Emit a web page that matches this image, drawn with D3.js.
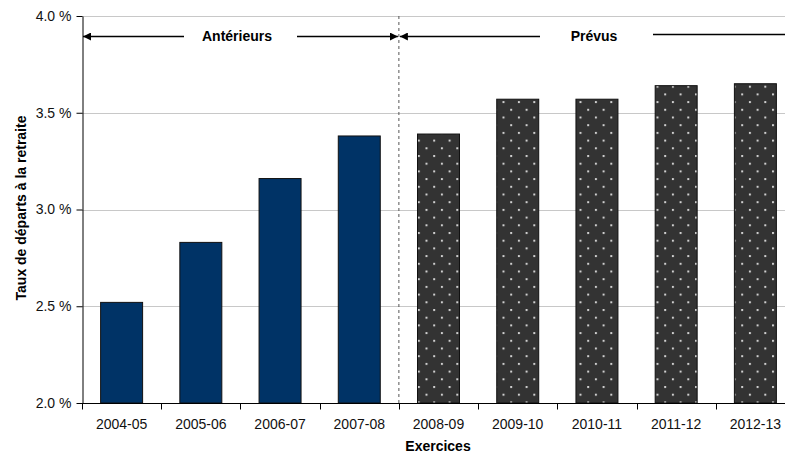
<!DOCTYPE html>
<html>
<head>
<meta charset="utf-8">
<script src="https://cdn.jsdelivr.net/npm/d3@7"></script>
<style>
  html, body { margin: 0; padding: 0; background: #fff; }
  svg { display: block; font-family: "Liberation Sans", Arial, sans-serif; }
</style>
</head>
<body>
<svg id="chart" width="785" height="455"></svg>
<script>
// Exercise years and retirement rates (%)
const categories = ["2004-05", "2005-06", "2006-07", "2007-08", "2008-09", "2009-10", "2010-11", "2011-12", "2012-13"];
const rates = [2.52, 2.83, 3.16, 3.38, 3.39, 3.57, 3.57, 3.64, 3.65];
const kinds = ["past", "past", "past", "past", "forecast", "forecast", "forecast", "forecast", "forecast"];
const yTicks = [2.0, 2.5, 3.0, 3.5, 4.0];

const svg = d3.select("#chart");
const margin = { left: 82, top: 16 };
const plotW = 713; // the plot runs slightly past the right edge of the view

const x = d3.scaleBand().domain(categories).range([margin.left, margin.left + plotW]).paddingInner(0.47).paddingOuter(0.235);
const y = d3.scaleLinear().domain([2.0, 4.0]).range([403, margin.top]);

// Dot pattern for forecast bars
const defs = svg.append("defs");
const pat = defs.append("pattern").attr("id", "dots").attr("patternUnits", "userSpaceOnUse")
  .attr("width", 15.4).attr("height", 15.4).attr("x", 2).attr("y", 1);
pat.append("rect").attr("width", 15.4).attr("height", 15.4).attr("fill", "#333333");
pat.append("rect").attr("x", 0).attr("y", 0).attr("width", 2).attr("height", 2).attr("fill", "#d0d0d0");
pat.append("rect").attr("x", 7.7).attr("y", 7.7).attr("width", 2).attr("height", 2).attr("fill", "#d0d0d0");

// Gridlines
svg.append("g").selectAll("line").data(yTicks.filter(d => d > 2.0)).join("line")
  .attr("x1", margin.left).attr("x2", margin.left + plotW)
  .attr("y1", d => Math.round(y(d)) + 0.5).attr("y2", d => Math.round(y(d)) + 0.5)
  .attr("stroke", "#c8c8c8").attr("stroke-width", 1);

// Bars
svg.append("g").selectAll("rect").data(categories).join("rect")
  .attr("x", d => x(d))
  .attr("y", (d, i) => y(rates[i]))
  .attr("width", x.bandwidth())
  .attr("height", (d, i) => y(2.0) - y(rates[i]))
  .attr("fill", (d, i) => kinds[i] === "past" ? "#003366" : "url(#dots)")
  .attr("stroke", "#111")
  .attr("stroke-width", 1);

// Divider between past and forecast
const divX = (x(categories[3]) + x.bandwidth() + x(categories[4])) / 2;
svg.append("line").attr("x1", divX).attr("x2", divX).attr("y1", y(4.0)).attr("y2", y(2.0))
  .attr("stroke", "#555").attr("stroke-width", 1).attr("stroke-dasharray", "3,3");

// Y axis
const yAxis = d3.axisLeft(y).tickValues(yTicks).tickSizeInner(6).tickSizeOuter(0).tickPadding(5)
  .tickFormat(d => d3.format(".1f")(d) + " %");
const gy = svg.append("g").attr("transform", `translate(${margin.left + 0.5},0)`).call(yAxis);
gy.selectAll("text").attr("font-size", 14).attr("fill", "#111");
gy.select(".domain").attr("stroke", "#000");

// X axis with ticks on band boundaries
const gx = svg.append("g").attr("transform", `translate(0,${Math.round(y(2.0)) + 0.5})`);
gx.append("line").attr("x1", margin.left).attr("x2", margin.left + plotW).attr("stroke", "#000");
const step = x.step();
const bounds = d3.range(0, categories.length + 1).map(i => margin.left + i * step);
gx.selectAll("line.tick").data(bounds).join("line").attr("class", "tick")
  .attr("x1", d => Math.round(d) + 0.5).attr("x2", d => Math.round(d) + 0.5)
  .attr("y1", 0).attr("y2", 6).attr("stroke", "#000");
gx.selectAll("text").data(categories).join("text")
  .attr("x", d => x(d) + x.bandwidth() / 2).attr("y", 25)
  .attr("text-anchor", "middle").attr("font-size", 14).attr("fill", "#111").text(d => d);

// Axis titles
svg.append("text").attr("x", 438).attr("y", 451).attr("text-anchor", "middle")
  .attr("font-size", 14).attr("font-weight", "bold").text("Exercices");
svg.append("text").attr("transform", `translate(25.5,208) rotate(-90)`)
  .attr("text-anchor", "middle").attr("font-size", 14).attr("font-weight", "bold")
  .text("Taux de départs à la retraite");

// Period markers
defs.append("marker").attr("id", "arrow").attr("viewBox", "0 0 10 10").attr("refX", 10).attr("refY", 5)
  .attr("markerWidth", 8).attr("markerHeight", 8).attr("markerUnits", "userSpaceOnUse").attr("orient", "auto")
  .append("path").attr("d", "M0,0 L10,5 L0,10 Z").attr("fill", "#000");

const arrowY = 36;
const periodLines = [
  { x1: 184, x2: margin.left + 1, y: arrowY },
  { x1: 297, x2: divX - 1, y: arrowY },
  { x1: 540, x2: divX + 1, y: arrowY },
  { x1: 653, x2: margin.left + plotW, y: arrowY - 2 }
];
svg.append("g").selectAll("line").data(periodLines).join("line")
  .attr("x1", d => d.x1).attr("x2", d => d.x2).attr("y1", d => d.y + 0.5).attr("y2", d => d.y + 0.5)
  .attr("stroke", "#000").attr("stroke-width", 1.3)
  .attr("marker-end", "url(#arrow)");

svg.append("text").attr("x", 237).attr("y", 41).attr("text-anchor", "middle")
  .attr("font-size", 14).attr("font-weight", "bold").text("Antérieurs");
svg.append("text").attr("x", 594).attr("y", 41).attr("text-anchor", "middle")
  .attr("font-size", 14).attr("font-weight", "bold").text("Prévus");
</script>
</body>
</html>
